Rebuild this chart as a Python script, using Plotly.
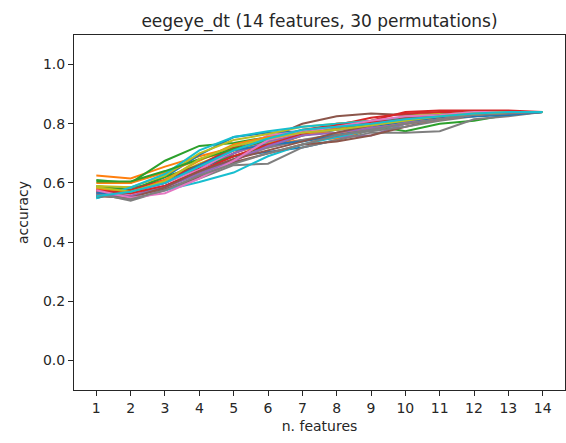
import plotly.graph_objects as go

n_features = list(range(1, 15))
tick_vals_y = [0.0, 0.2, 0.4, 0.6, 0.8, 1.0]
title_text = "eegeye_dt (14 features, 30 permutations)"
x_label = "n. features"
y_label = "accuracy"

perm_00 = [0.575, 0.585, 0.600, 0.650, 0.690, 0.705, 0.720, 0.745, 0.780, 0.800, 0.815, 0.830, 0.835, 0.840]
perm_01 = [0.625, 0.615, 0.655, 0.690, 0.720, 0.730, 0.745, 0.750, 0.780, 0.800, 0.820, 0.835, 0.840, 0.840]
perm_02 = [0.610, 0.600, 0.675, 0.725, 0.735, 0.755, 0.775, 0.790, 0.795, 0.775, 0.800, 0.810, 0.830, 0.840]
perm_03 = [0.580, 0.570, 0.600, 0.650, 0.700, 0.740, 0.775, 0.800, 0.810, 0.840, 0.845, 0.845, 0.845, 0.840]
perm_04 = [0.570, 0.570, 0.590, 0.640, 0.680, 0.720, 0.745, 0.755, 0.760, 0.800, 0.820, 0.830, 0.840, 0.840]
perm_05 = [0.560, 0.560, 0.590, 0.630, 0.700, 0.750, 0.800, 0.825, 0.835, 0.830, 0.835, 0.840, 0.840, 0.840]
perm_06 = [0.575, 0.560, 0.575, 0.620, 0.670, 0.740, 0.770, 0.785, 0.800, 0.815, 0.825, 0.835, 0.840, 0.840]
perm_07 = [0.565, 0.540, 0.575, 0.615, 0.660, 0.665, 0.720, 0.745, 0.770, 0.770, 0.775, 0.815, 0.825, 0.840]
perm_08 = [0.585, 0.575, 0.610, 0.665, 0.710, 0.735, 0.770, 0.785, 0.800, 0.825, 0.835, 0.840, 0.840, 0.840]
perm_09 = [0.548, 0.580, 0.575, 0.603, 0.635, 0.690, 0.730, 0.755, 0.780, 0.800, 0.820, 0.830, 0.835, 0.840]
perm_10 = [0.555, 0.575, 0.620, 0.695, 0.755, 0.770, 0.775, 0.785, 0.800, 0.815, 0.820, 0.825, 0.835, 0.840]
perm_11 = [0.600, 0.600, 0.635, 0.680, 0.710, 0.720, 0.760, 0.785, 0.805, 0.815, 0.825, 0.830, 0.835, 0.840]
perm_12 = [0.590, 0.575, 0.620, 0.660, 0.690, 0.725, 0.760, 0.780, 0.790, 0.810, 0.830, 0.835, 0.840, 0.840]
perm_13 = [0.570, 0.575, 0.610, 0.660, 0.720, 0.745, 0.780, 0.795, 0.820, 0.835, 0.840, 0.840, 0.840, 0.840]
perm_14 = [0.565, 0.565, 0.600, 0.655, 0.700, 0.740, 0.765, 0.780, 0.790, 0.805, 0.820, 0.830, 0.840, 0.840]
perm_15 = [0.575, 0.555, 0.580, 0.620, 0.670, 0.700, 0.730, 0.740, 0.760, 0.790, 0.815, 0.830, 0.840, 0.840]
perm_16 = [0.580, 0.560, 0.600, 0.645, 0.710, 0.760, 0.775, 0.790, 0.805, 0.820, 0.830, 0.835, 0.840, 0.840]
perm_17 = [0.570, 0.555, 0.585, 0.635, 0.680, 0.720, 0.745, 0.765, 0.775, 0.790, 0.810, 0.825, 0.835, 0.840]
perm_18 = [0.590, 0.585, 0.625, 0.700, 0.745, 0.765, 0.790, 0.800, 0.810, 0.820, 0.830, 0.840, 0.840, 0.840]
perm_19 = [0.548, 0.585, 0.630, 0.710, 0.755, 0.775, 0.790, 0.800, 0.810, 0.820, 0.830, 0.835, 0.840, 0.840]
perm_20 = [0.565, 0.570, 0.600, 0.660, 0.710, 0.730, 0.740, 0.760, 0.785, 0.810, 0.820, 0.825, 0.830, 0.840]
perm_21 = [0.580, 0.565, 0.610, 0.675, 0.730, 0.755, 0.765, 0.770, 0.785, 0.800, 0.815, 0.830, 0.840, 0.840]
perm_22 = [0.605, 0.605, 0.640, 0.680, 0.715, 0.745, 0.770, 0.790, 0.800, 0.815, 0.830, 0.835, 0.840, 0.840]
perm_23 = [0.575, 0.565, 0.590, 0.640, 0.690, 0.730, 0.765, 0.795, 0.805, 0.815, 0.825, 0.835, 0.840, 0.840]
perm_24 = [0.560, 0.555, 0.585, 0.630, 0.675, 0.725, 0.760, 0.770, 0.785, 0.800, 0.815, 0.830, 0.840, 0.840]
perm_25 = [0.555, 0.550, 0.585, 0.640, 0.680, 0.710, 0.740, 0.770, 0.795, 0.820, 0.830, 0.840, 0.840, 0.840]
perm_26 = [0.575, 0.550, 0.565, 0.615, 0.675, 0.745, 0.770, 0.790, 0.810, 0.825, 0.830, 0.840, 0.840, 0.840]
perm_27 = [0.560, 0.545, 0.575, 0.625, 0.665, 0.700, 0.730, 0.760, 0.780, 0.800, 0.815, 0.830, 0.835, 0.840]
perm_28 = [0.585, 0.570, 0.605, 0.680, 0.725, 0.750, 0.770, 0.780, 0.795, 0.810, 0.825, 0.835, 0.840, 0.840]
perm_29 = [0.555, 0.570, 0.600, 0.655, 0.710, 0.750, 0.780, 0.790, 0.800, 0.815, 0.825, 0.835, 0.840, 0.840]

permutations = [perm_00, perm_01, perm_02, perm_03, perm_04, perm_05, perm_06, perm_07, perm_08, perm_09,
                perm_10, perm_11, perm_12, perm_13, perm_14, perm_15, perm_16, perm_17, perm_18, perm_19,
                perm_20, perm_21, perm_22, perm_23, perm_24, perm_25, perm_26, perm_27, perm_28, perm_29]

tab10 = ['#1f77b4', '#ff7f0e', '#2ca02c', '#d62728', '#9467bd',
         '#8c564b', '#e377c2', '#7f7f7f', '#bcbd22', '#17becf']

fig = go.Figure()
for i, acc in enumerate(permutations):
    fig.add_trace(go.Scatter(x=n_features, y=acc, mode='lines',
                             line=dict(color=tab10[i % 10], width=2),
                             showlegend=False, hoverinfo='skip'))

font_family = "DejaVu Sans"
fig.update_layout(
    width=566, height=443,
    margin=dict(l=74, r=1, t=35, b=53),
    paper_bgcolor='white', plot_bgcolor='white',
    font=dict(family=font_family, size=14, color='#262626'),
    title=dict(text=title_text, x=0.5, xref='paper', xanchor='center',
               y=1 - 21 / 443, yref='container', yanchor='middle',
               font=dict(family=font_family, size=17, color='#262626')),
    showlegend=False,
)
fig.update_xaxes(range=[0.35, 14.65], tickvals=n_features, ticktext=[str(v) for v in n_features],
                 showgrid=False, zeroline=False, showline=True, mirror=True,
                 linecolor='#262626', linewidth=1.1, ticks='outside', ticklen=5,
                 tickwidth=1.1, tickcolor='#262626',
                 title=dict(text=x_label, standoff=6, font=dict(size=14)))
fig.update_yaxes(range=[-0.1, 1.1], tickvals=tick_vals_y, tickformat='.1f',
                 showgrid=False, zeroline=False, showline=True, mirror=True,
                 linecolor='#262626', linewidth=1.1, ticks='outside', ticklen=5,
                 tickwidth=1.1, tickcolor='#262626',
                 title=dict(text=y_label, standoff=10, font=dict(size=14)))

fig.write_html("out.html")
